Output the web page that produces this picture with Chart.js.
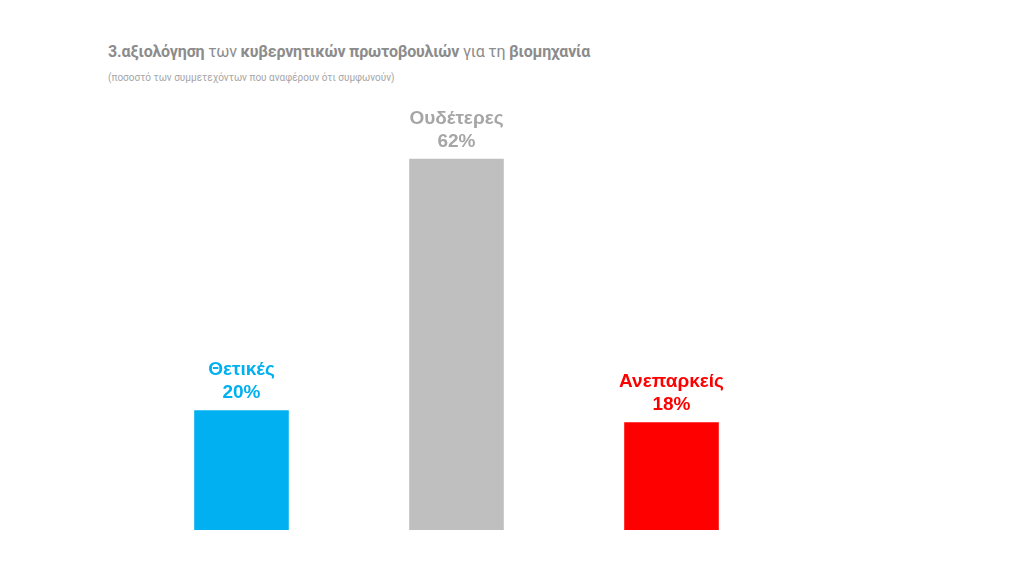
<!DOCTYPE html>
<html><head><meta charset="utf-8">
<script src="https://cdn.jsdelivr.net/npm/chart.js"></script>
<style>
body{margin:0;background:#fff;font-family:Roboto,"Noto Sans",sans-serif;}
#title{position:absolute;left:108px;top:42px;font-size:16px;color:#8c8c8c;letter-spacing:-0.2px;}
#title b{font-weight:700;}
#sub{position:absolute;left:108px;top:72px;font-size:10px;color:#a6a6a6;}
#wrap{position:absolute;left:134px;top:0;width:645px;height:530px;}
</style></head><body>
<div id="title"><b>3.αξιολόγηση</b> των <b>κυβερνητικών πρωτοβουλιών</b> για τη <b>βιομηχανία</b></div>
<div id="sub">(ποσοστό των συμμετεχόντων που αναφέρουν ότι συμφωνούν)</div>
<div id="wrap"><canvas id="c"></canvas></div>
<script>
const categories = ['Θετικές', 'Ουδέτερες', 'Ανεπαρκείς'];
const values = [20, 62, 18];
const barColors = ['#00b0f0', '#bfbfbf', '#ff0000'];
const labelColors = ['#00b0f0', '#a6a6a6', '#ff0000'];

const topLabels = {
    id: 'topLabels',
    afterDatasetsDraw(chart) {
        const ctx = chart.ctx;
        chart.getDatasetMeta(0).data.forEach((bar, i) => {
            ctx.save();
            ctx.fillStyle = labelColors[i];
            ctx.font = 'bold 19px Arial, "Liberation Sans", sans-serif';
            ctx.textAlign = 'center';
            ctx.textBaseline = 'bottom';
            ctx.fillText(values[i] + '%', bar.x, bar.y - 8);
            ctx.fillText(categories[i], bar.x, bar.y - 31);
            ctx.restore();
        });
    }
};

new Chart(document.getElementById('c'), {
    type: 'bar',
    data: {
        labels: categories,
        datasets: [{ data: values, backgroundColor: barColors, barPercentage: 0.44, categoryPercentage: 1 }]
    },
    options: {
        responsive: true,
        maintainAspectRatio: false,
        animation: false,
        layout: { padding: { top: 99, bottom: 0, left: 0, right: 0 } },
        plugins: { legend: { display: false }, tooltip: { enabled: false } },
        scales: {
            x: { display: false },
            y: { display: false, min: 0, max: 72 }
        }
    },
    plugins: [topLabels]
});
</script>
</body></html>
